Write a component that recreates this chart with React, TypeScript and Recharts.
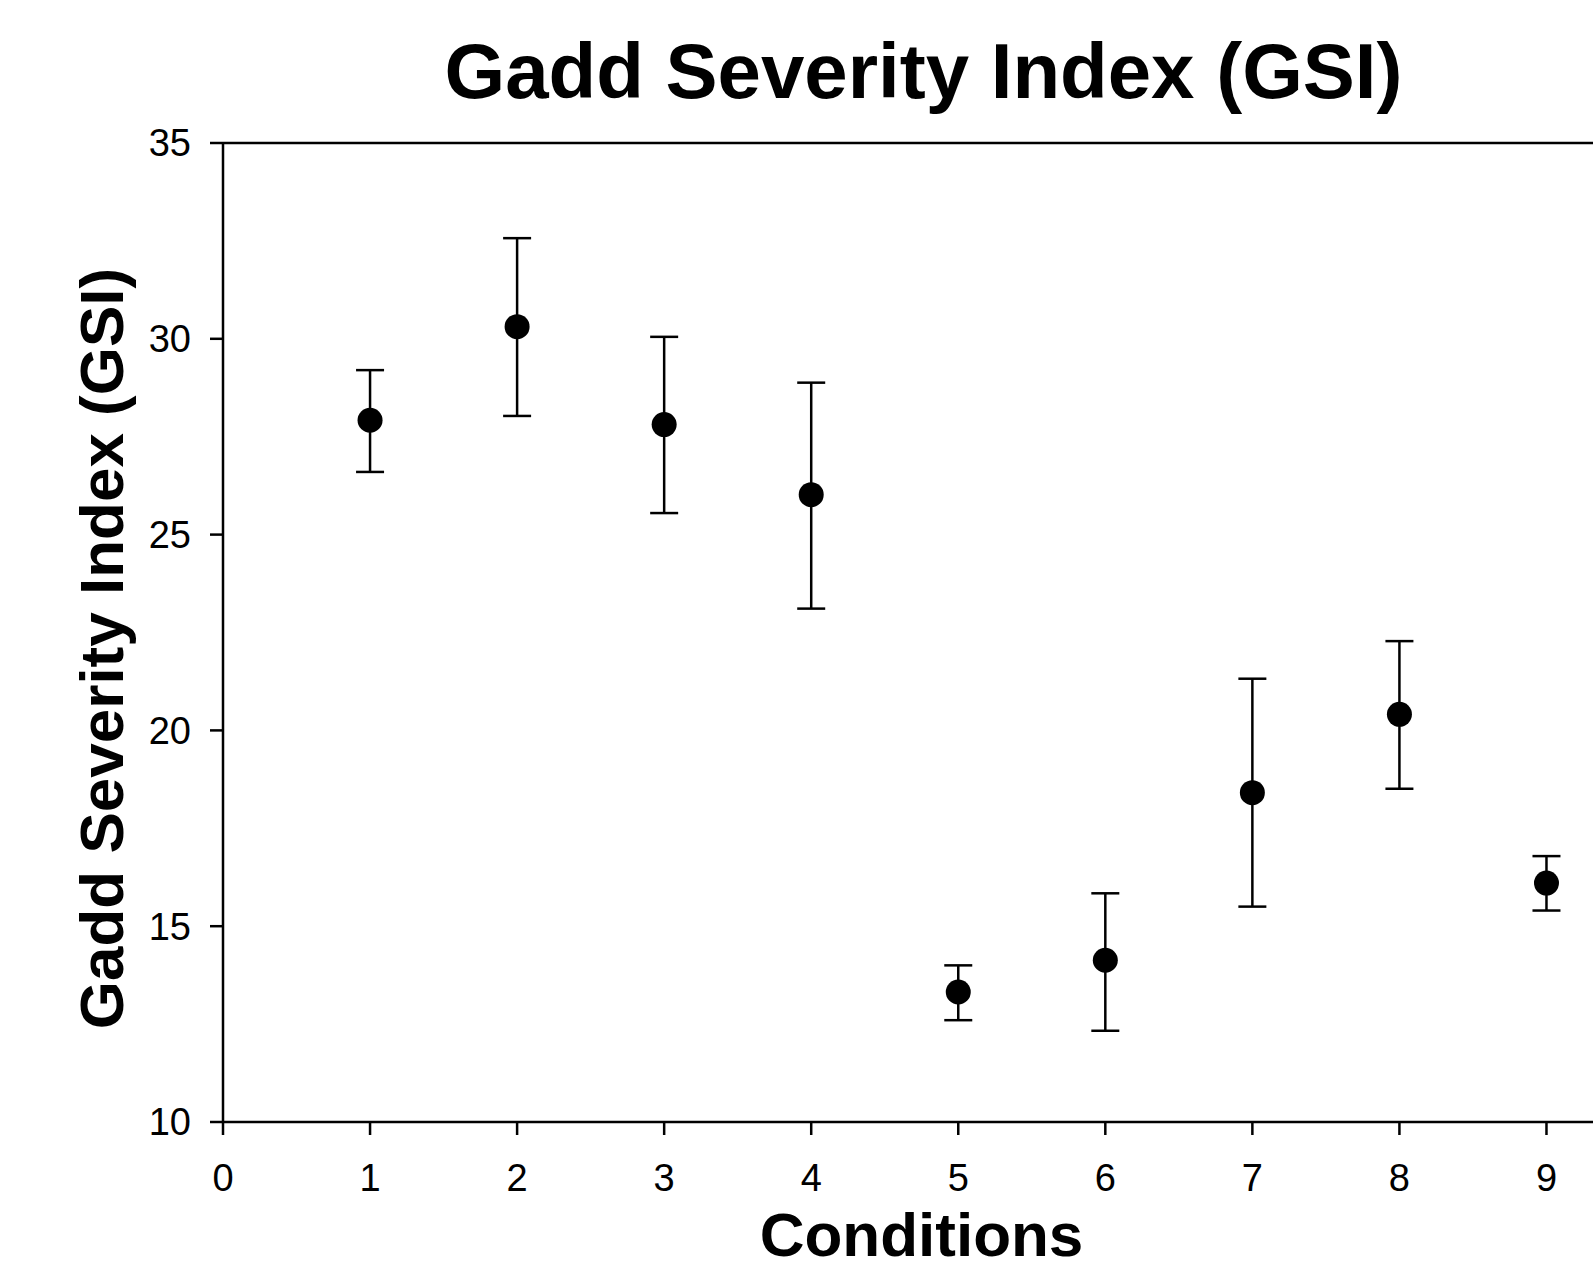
import { ScatterChart, Scatter, XAxis, YAxis, ErrorBar, ReferenceLine } from "recharts";

// Gadd Severity Index per test condition (mean, upper and lower bar ends)
const conditions = [1, 2, 3, 4, 5, 6, 7, 8, 9];
const gsiMeans = [27.92, 30.31, 27.81, 26.02, 13.32, 14.13, 18.41, 20.41, 16.1];
const gsiUpper = [29.2, 32.57, 30.05, 28.88, 14.0, 15.84, 21.32, 22.28, 16.79];
const gsiLower = [26.6, 28.03, 25.55, 23.11, 12.6, 12.33, 15.5, 18.51, 15.4];

const xTicks = [0, 1, 2, 3, 4, 5, 6, 7, 8, 9];
const yTicks = [10, 15, 20, 25, 30, 35];

const FONT = '"Liberation Sans", Arial, Helvetica, sans-serif';

const data = conditions.map((c, i) => ({
  condition: c,
  gsi: gsiMeans[i],
  err: [
    Number((gsiMeans[i] - gsiLower[i]).toFixed(2)),
    Number((gsiUpper[i] - gsiMeans[i]).toFixed(2)),
  ],
}));

const XLabel = ({ viewBox }: any) => (
  <text
    x={viewBox.x + viewBox.width / 2}
    y={viewBox.y + 134}
    textAnchor="middle"
    fontSize={62}
    fontWeight="bold"
    fontFamily={FONT}
    fill="#000"
  >
    Conditions
  </text>
);

const YLabel = ({ viewBox }: any) => {
  const x = viewBox.x;
  const y = viewBox.y + viewBox.height / 2 + 16;
  return (
    <text
      x={x}
      y={y}
      transform={`rotate(-90, ${x}, ${y})`}
      textAnchor="middle"
      fontSize={62}
      fontWeight="bold"
      fontFamily={FONT}
      fill="#000"
    >
      Gadd Severity Index (GSI)
    </text>
  );
};

const Title = ({ viewBox }: any) => (
  <text
    x={viewBox.x + viewBox.width / 2 + 2}
    y={viewBox.y - 45}
    textAnchor="middle"
    fontSize={78}
    fontWeight="bold"
    fontFamily={FONT}
    fill="#000"
  >
    Gadd Severity Index (GSI)
  </text>
);

const Dot = (props: any) => <circle cx={props.cx} cy={props.cy} r={12.5} fill="#000" />;

export default function App() {
  return (
    <div
      style={{
        position: "absolute",
        left: 0,
        top: 0,
        width: 1593,
        height: 1273,
        overflow: "hidden",
        background: "#fff",
      }}
    >
      <ScatterChart
        width={1650}
        height={1273}
        margin={{ top: 143, right: 30, bottom: 91, left: 123 }}
      >
        <XAxis
          type="number"
          dataKey="condition"
          domain={[0, 9.5]}
          ticks={xTicks}
          allowDataOverflow
          height={60}
          tickSize={13}
          tickMargin={29}
          axisLine={{ stroke: "#000", strokeWidth: 2.5 }}
          tickLine={{ stroke: "#000", strokeWidth: 2.5 }}
          tick={{ fill: "#000", fontSize: 38, fontFamily: FONT }}
          label={<XLabel />}
        />
        <YAxis
          type="number"
          dataKey="gsi"
          domain={[10, 35]}
          ticks={yTicks}
          allowDataOverflow
          width={100}
          tickSize={13}
          tickMargin={19}
          axisLine={{ stroke: "#000", strokeWidth: 2.5 }}
          tickLine={{ stroke: "#000", strokeWidth: 2.5 }}
          tick={{ fill: "#000", fontSize: 38, fontFamily: FONT }}
          label={<YLabel />}
        />
        <ReferenceLine y={35} stroke="#000" strokeWidth={2.5} label={<Title />} />
        <Scatter data={data} shape={<Dot />} isAnimationActive={false}>
          <ErrorBar
            dataKey="err"
            direction="y"
            width={14}
            stroke="#000"
            strokeWidth={2.5}
            isAnimationActive={false}
          />
        </Scatter>
      </ScatterChart>
    </div>
  );
}
